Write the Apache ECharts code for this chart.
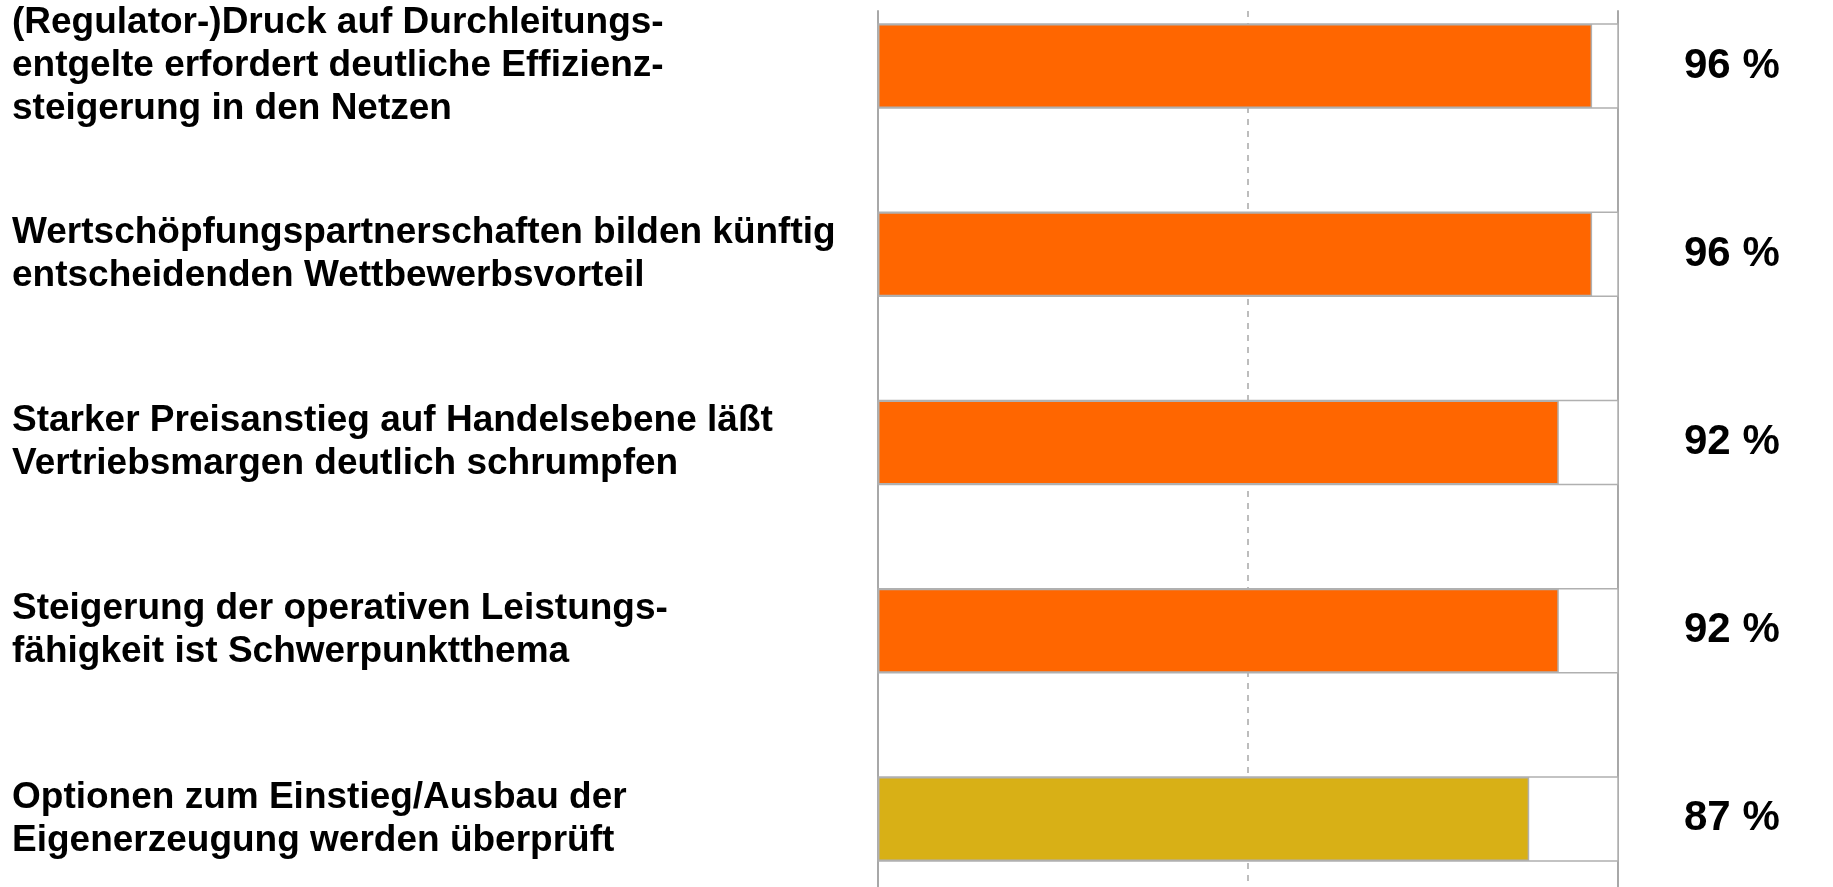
<!DOCTYPE html>
<html>
<head>
<meta charset="utf-8">
<script src="https://cdn.jsdelivr.net/npm/echarts@6/dist/echarts.min.js"></script>
<style>
  html, body { margin: 0; padding: 0; background: #fff; }
  #chart { width: 1833px; height: 887px; }
</style>
</head>
<body>
<div id="chart"></div>
<script>
const categories = [
  '(Regulator-)Druck auf Durchleitungs-\nentgelte erfordert deutliche Effizienz-\nsteigerung in den Netzen',
  'Wertschöpfungspartnerschaften bilden künftig\nentscheidenden Wettbewerbsvorteil',
  'Starker Preisanstieg auf Handelsebene läßt\nVertriebsmargen deutlich schrumpfen',
  'Steigerung der operativen Leistungs-\nfähigkeit ist Schwerpunktthema',
  'Optionen zum Einstieg/Ausbau der\nEigenerzeugung werden überprüft',
]
// bar lengths
const values = [96.5, 96.5, 92, 92, 88]
const valueLabels = ['96 %', '96 %', '92 %', '92 %', '87 %']
const barColors = ['#FF6600', '#FF6600', '#FF6600', '#FF6600', '#D8B016']

const chart = echarts.init(document.getElementById('chart'))
const font = "'Liberation Sans', Arial, sans-serif"

chart.setOption({
  animation: false,
  grid: [
    // bars + labels
    { left: 878, right: 215, top: -28, height: 941, outerBoundsMode: 'none', containLabel: false },
    // vertical guide lines
    { left: 878, right: 215, top: 11, bottom: 0, outerBoundsMode: 'none', containLabel: false },
  ],
  xAxis: [
    { gridIndex: 0, type: 'value', min: 0, max: 100, show: false },
    {
      gridIndex: 1,
      type: 'value',
      min: 0,
      max: 100,
      interval: 50,
      axisLine: { show: false },
      axisTick: { show: false },
      axisLabel: { show: false },
      splitLine: { show: true, lineStyle: { color: '#A8A8A8', width: 1.5, type: [6, 6] } },
    },
  ],
  yAxis: [
    {
      gridIndex: 0,
      type: 'category',
      inverse: true,
      data: categories,
      axisLine: { show: false },
      axisTick: { show: false },
      splitLine: { show: false },
      axisLabel: {
        align: 'left',
        margin: 866,
        color: '#000',
        fontFamily: font,
        fontWeight: 'bold',
        fontSize: 37,
        lineHeight: 43,
      },
    },
    {
      gridIndex: 0,
      type: 'category',
      inverse: true,
      position: 'right',
      data: valueLabels,
      axisLine: { show: false },
      axisTick: { show: false },
      splitLine: { show: false },
      axisLabel: {
        align: 'left',
        margin: 66,
        color: '#000',
        fontFamily: font,
        fontWeight: 'bold',
        fontSize: 42,
      },
    },
    {
      gridIndex: 1,
      type: 'value',
      min: 0,
      max: 1,
      position: 'left',
      axisLine: { show: true, lineStyle: { color: '#A8A8A8', width: 2 } },
      axisTick: { show: false },
      axisLabel: { show: false },
      splitLine: { show: false },
    },
    {
      gridIndex: 1,
      type: 'value',
      min: 0,
      max: 1,
      position: 'right',
      axisLine: { show: true, lineStyle: { color: '#A8A8A8', width: 2 } },
      axisTick: { show: false },
      axisLabel: { show: false },
      splitLine: { show: false },
    },
  ],
  series: [
    {
      type: 'bar',
      xAxisIndex: 0,
      yAxisIndex: 0,
      barWidth: 84,
      z: 3,
      showBackground: true,
      backgroundStyle: { color: '#fff', borderColor: '#B0B0B0', borderWidth: 1.5 },
      data: values.map((v, i) => ({
        value: v,
        itemStyle: { color: barColors[i], borderColor: '#B0B0B0', borderWidth: 1.5 },
      })),
    },
  ],
})
</script>
</body>
</html>
